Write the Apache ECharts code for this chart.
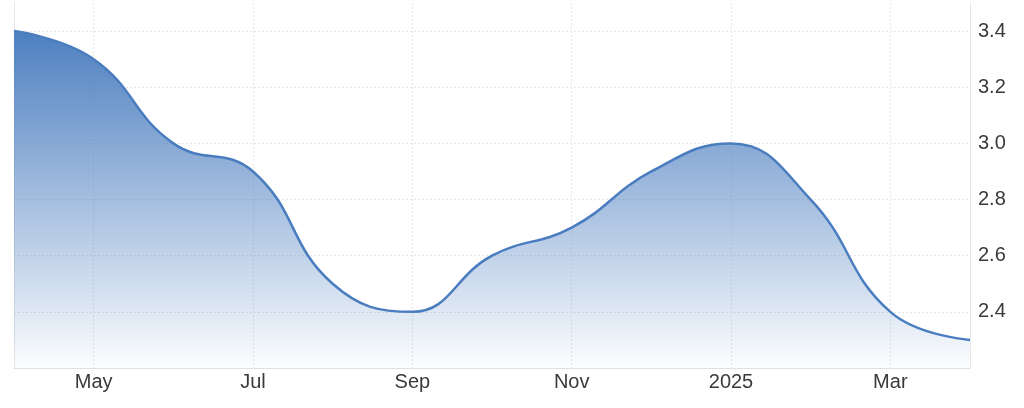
<!DOCTYPE html>
<html><head><meta charset="utf-8">
<script src="https://cdn.jsdelivr.net/npm/echarts@6/dist/echarts.min.js"></script>
<style>html,body{margin:0;padding:0;background:#fff}#c{width:1024px;height:408px}</style>
</head><body><div id="c"></div>
<script>
var categories = ['Apr','May','Jun','Jul','Aug','Sep','Oct','Nov','Dec','2025','Feb','Mar','Apr'];
var values = [3.4, 3.3, 3.0, 2.9, 2.5, 2.4, 2.6, 2.7, 2.9, 3.0, 2.8, 2.4, 2.3];
var yTicks = [2.4, 2.6, 2.8, 3.0, 3.2, 3.4];

var chart = echarts.init(document.getElementById('c'), null, {renderer:'canvas'});
var labelFont = {fontFamily:'Liberation Sans, Arial, sans-serif', fontSize:20, color:'#3a3a3a'};
chart.setOption({
  animation:false,
  grid:{left:14, right:54, top:3, bottom:40},
  xAxis:{
    type:'category', data:categories, boundaryGap:false,
    axisLine:{show:true, lineStyle:{color:'#e0e0e0', width:1}},
    axisTick:{show:false},
    axisLabel:Object.assign({interval:function(i){return i%2===1;}, margin:4}, labelFont),
    splitLine:{show:true, interval:function(i){return i%2===1;}, lineStyle:{color:'#e6e6e6', type:[2,2]}}
  },
  yAxis:[{
    type:'value', position:'right', min:2.2, max:3.5, interval:0.2,
    axisLine:{show:true, lineStyle:{color:'#e6e6e6'}},
    axisTick:{show:false},
    axisLabel:Object.assign({margin:8, formatter:function(v){
      for (var i=0;i<yTicks.length;i++){ if (Math.abs(v-yTicks[i])<1e-6) return yTicks[i].toFixed(1); }
      return '';
    }}, labelFont),
    splitLine:{show:true, showMinLine:false, showMaxLine:false, lineStyle:{color:'#e6e6e6', type:[2,2]}}
  },{
    type:'value', position:'left', min:2.2, max:3.5, interval:0.2,
    axisLine:{show:true, lineStyle:{color:'#e6e6e6'}},
    axisTick:{show:false}, axisLabel:{show:false}, splitLine:{show:false}
  }],
  series:[{
    type:'line', data:values, smooth:0.45, symbol:'none',
    lineStyle:{color:'#4a7dbf', width:2.5},
    areaStyle:{opacity:1, color:new echarts.graphic.LinearGradient(0,0,0,1,[
      {offset:0, color:'rgba(77,127,192,1)'},
      {offset:1, color:'rgba(77,127,192,0.02)'}
    ])}
  }]
});
</script></body></html>
